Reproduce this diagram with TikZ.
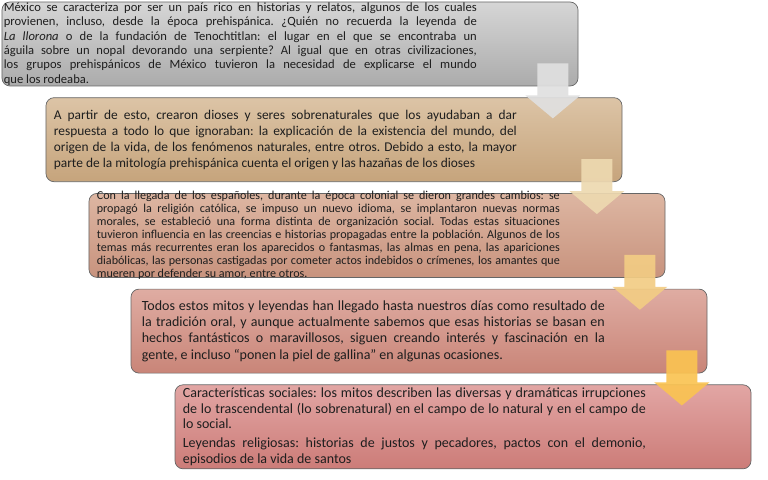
\documentclass[tikz,border=0pt]{standalone}
\usepackage{fontspec}
\setmainfont{Carlito}
\frenchspacing
\usetikzlibrary{positioning, calc}
\definecolor{boxAtop}{HTML}{D6D6D6}
\definecolor{boxAbot}{HTML}{ABABAB}
\definecolor{boxBtop}{HTML}{DCC4A6}
\definecolor{boxBbot}{HTML}{C6A47C}
\definecolor{boxCtop}{HTML}{DDB6A2}
\definecolor{boxCbot}{HTML}{C8937E}
\definecolor{boxDtop}{HTML}{DFACA2}
\definecolor{boxDbot}{HTML}{C98578}
\definecolor{boxEtop}{HTML}{E2A6A4}
\definecolor{boxEbot}{HTML}{CC7C78}
\definecolor{arrA}{HTML}{E0E0E0}
\definecolor{arrB}{HTML}{EDD9B0}
\definecolor{arrC}{HTML}{F2CC84}
\definecolor{arrD}{HTML}{FAC352}
\definecolor{txtdark}{HTML}{1E1E1E}
% block arrow from one step box down to the next
\newcommand{\stepdown}[3]{%
  \coordinate (#1top) at ($(#1.south east)+(-25.5,-23)$);
  \coordinate (#1base) at (#1top |- #2.north);
  \fill[#3, fill opacity=0.92]
    ($(#1top)+(-15.5,0)$) -- ($(#1base)+(-15.5,-2)$) -- ($(#1base)+(-27.5,-2)$)
    -- ($(#1base)+(0,21)$) -- ($(#1base)+(27.5,-2)$) -- ($(#1base)+(15.5,-2)$)
    -- ($(#1top)+(15.5,0)$) -- cycle;}

\begin{document}
\begin{tikzpicture}[
  x=1bp, y=-1bp,
  stepbox/.style={rectangle, rounded corners=8bp, draw=black!60, line width=0.7bp,
                  minimum width=576bp, minimum height=84bp, inner sep=0pt},
  steptext/.style={inner sep=0pt, text width=463bp, align=justify, text=txtdark},
  node distance=11bp
]
\useasboundingbox (0,0) rectangle (768,480);

\node[stepbox, top color=boxAtop, bottom color=boxAbot] (b1) at (290,44) {};
\node[stepbox, top color=boxBtop, bottom color=boxBbot, below=of b1, xshift=44bp] (b2) {};
\node[stepbox, top color=boxCtop, bottom color=boxCbot, below=of b2, xshift=43bp] (b3) {};
\node[stepbox, top color=boxDtop, bottom color=boxDbot, below=of b3, xshift=42bp] (b4) {};
\node[stepbox, top color=boxEtop, bottom color=boxEbot, below=of b4, xshift=44bp] (b5) {};

% texts
\node[steptext, text width=473bp, font=\fontsize{12.6bp}{14.3bp}\selectfont,
      right=2bp of b1.west] (t1)
  {México se caracteriza por ser un país rico en historias y relatos, algunos de los cuales\linebreak
   provienen, incluso, desde la época prehispánica. ¿Quién no recuerda la leyenda de\linebreak
   \textit{La llorona} o de la fundación de Tenochtitlan: el lugar en el que se encontraba un\linebreak
   águila sobre un nopal devorando una serpiente? Al igual que en otras civilizaciones,\linebreak
   los grupos prehispánicos de México tuvieron la necesidad de explicarse el mundo\linebreak
   que los rodeaba.};
\node[steptext, font=\fontsize{13.4bp}{16bp}\selectfont, right=8bp of b2.west] (t2)
  {A partir de esto, crearon dioses y seres sobrenaturales que los ayudaban a dar\linebreak
   respuesta a todo lo que ignoraban: la explicación de la existencia del mundo, del\linebreak
   origen de la vida, de los fenómenos naturales, entre otros. Debido a esto, la mayor\linebreak
   parte de la mitología prehispánica cuenta el origen y las hazañas de los dioses};
\node[steptext, font=\fontsize{12.1bp}{13bp}\selectfont, right=8bp of b3.west] (t3)
  {Con la llegada de los españoles, durante la época colonial se dieron grandes cambios: se\linebreak
   propagó la religión católica, se impuso un nuevo idioma, se implantaron nuevas normas\linebreak
   morales, se estableció una forma distinta de organización social. Todas estas situaciones\linebreak
   tuvieron influencia en las creencias e historias propagadas entre la población. Algunos de los\linebreak
   temas más recurrentes eran los aparecidos o fantasmas, las almas en pena, las apariciones\linebreak
   diabólicas, las personas castigadas por cometer actos indebidos o crímenes, los amantes que\linebreak
   mueren por defender su amor, entre otros.};
\node[steptext, font=\fontsize{14bp}{16.3bp}\selectfont, right=11bp of b4.west] (t4)
  {Todos estos mitos y leyendas han llegado hasta nuestros días como resultado de\linebreak
   la tradición oral, y aunque actualmente sabemos que esas historias se basan en\linebreak
   hechos fantásticos o maravillosos, siguen creando interés y fascinación en la\linebreak
   gente, e incluso “ponen la piel de gallina” en algunas ocasiones.};
\node[steptext, font=\fontsize{14bp}{15.5bp}\selectfont, right=8bp of b5.west] (t5)
  {Características sociales: los mitos describen las diversas y dramáticas irrupciones\linebreak
   de lo trascendental (lo sobrenatural) en el campo de lo natural y en el campo de\linebreak
   lo social.\par\vspace{3.5bp}
   Leyendas religiosas: historias de justos y pecadores, pactos con el demonio,\linebreak
   episodios de la vida de santos};

% arrows between the steps
\stepdown{b1}{b2}{arrA}
\stepdown{b2}{b3}{arrB}
\stepdown{b3}{b4}{arrC}
\stepdown{b4}{b5}{arrD}
\end{tikzpicture}
\end{document}
